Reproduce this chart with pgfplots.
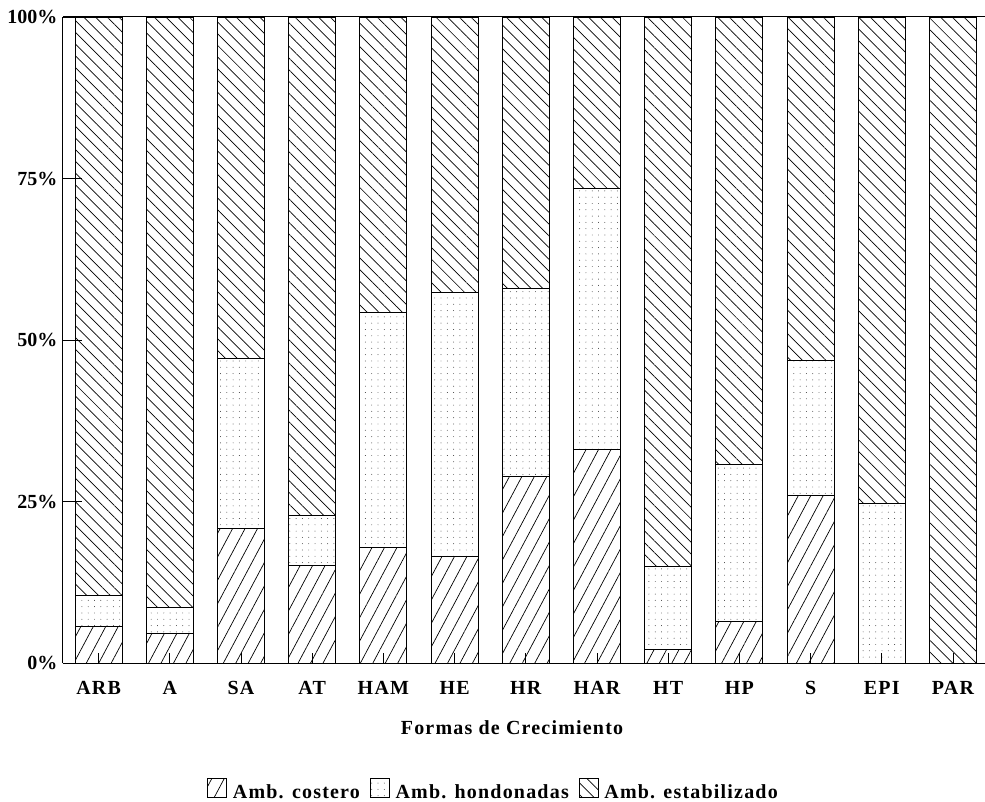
\documentclass[border=0pt]{standalone}
\usepackage{fontspec}
\setmainfont{Liberation Serif}
\usepackage{pgfplots}
\pgfplotsset{compat=1.18}
\usetikzlibrary{patterns.meta}
\tikzset{
  costero/.style={pattern={Lines[angle=62,distance=11bp,line width=0.7bp]},pattern color=black},
  hond/.style={pattern={Dots[distance=6.3bp,radius=0.45bp]},pattern color=black!80},
  estab/.style={pattern={Lines[angle=-45,distance=8.3bp,line width=0.7bp]},pattern color=black},
}
\newfontfamily\lsfont[LetterSpace=6]{Liberation Serif}
\newcommand{\ff}{\fontsize{20bp}{22bp}\selectfont\bfseries}
\newcommand{\fl}{\fontsize{20bp}{22bp}\lsfont\bfseries}
\begin{document}
\begin{tikzpicture}
\begin{axis}[
  scale only axis,
  width=922bp, height=646bp,
  ybar stacked,
  bar width=47bp,
  xmin=-0.5, xmax=12.45,
  ymin=0, ymax=100,
  axis x line=box, axis y line=left,
  axis line style={line width=1bp, -},
  xtick={0,...,12},
  xtick pos=bottom,
  xticklabels={ARB,A,SA,AT,HAM,HE,HR,HAR,HT,HP,S,EPI,PAR},
  ytick={0,25,50,75,100},
  yticklabels={0\%,25\%,50\%,75\%,100\%},
  tick align=inside,
  xtick style={/pgfplots/major tick length=10bp, line width=0.6bp, black},
  ytick style={/pgfplots/major tick length=19bp, line width=0.6bp, black},
  ticklabel style={font=\ff},
  xticklabel style={yshift=-15bp, font=\fl},
  yticklabel style={xshift=-2bp},
  xlabel={Formas de Crecimiento},
  xlabel style={font=\fl, at={(axis description cs:0.487,-0.1)}, anchor=center},
  legend style={draw=none, font=\fl, legend columns=-1,
    at={(axis description cs:0.467,-0.197)}, anchor=center,
    /tikz/every odd column/.append style={column sep=4bp},
    /tikz/every even column/.append style={column sep=8bp}},
  legend image code/.code={\draw[#1,line width=0.6bp] (0bp,-5bp) rectangle (19bp,14bp);},
  axis on top,
  every axis plot/.append style={draw=black, line width=0.9bp},
]
\addplot[costero] coordinates {(0,5.7) (1,4.6) (2,20.8) (3,15.1) (4,17.9) (5,16.5) (6,28.9) (7,33.1) (8,2.1) (9,6.4) (10,25.9) (11,0) (12,0)};
\addplot[hond] coordinates {(0,4.8) (1,4.0) (2,26.4) (3,7.8) (4,36.4) (5,40.8) (6,29.1) (7,40.4) (8,12.8) (9,24.3) (10,21.0) (11,24.7) (12,0)};
\addplot[estab] coordinates {(0,89.5) (1,91.4) (2,52.8) (3,77.1) (4,45.7) (5,42.7) (6,42.0) (7,26.5) (8,85.1) (9,69.3) (10,53.1) (11,75.3) (12,100)};
\legend{Amb. costero, Amb. hondonadas, Amb. estabilizado}
\end{axis}
\pgfresetboundingbox
\useasboundingbox ([xshift=-63bp,yshift=-139bp]current axis.south west) rectangle ([yshift=17bp]current axis.north east);
\end{tikzpicture}
\end{document}
